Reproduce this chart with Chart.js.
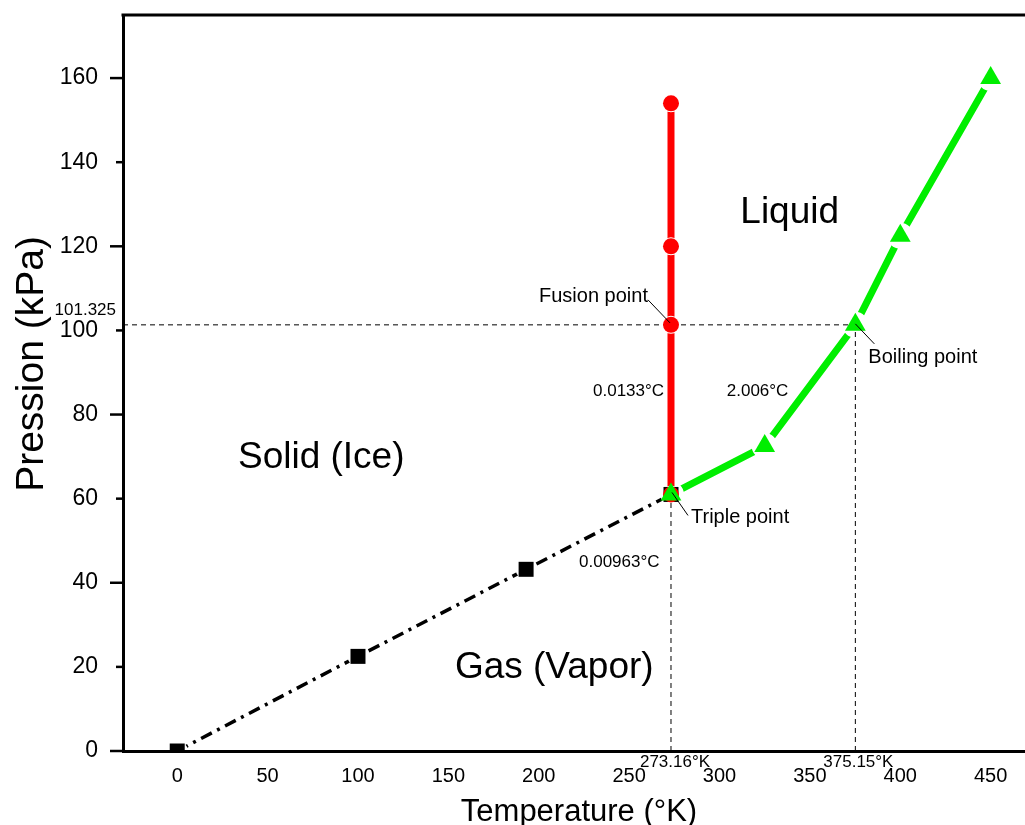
<!DOCTYPE html>
<html>
<head>
<meta charset="utf-8">
<script src="https://cdn.jsdelivr.net/npm/chart.js@4/dist/chart.umd.min.js"></script>
<style>
  html, body { margin: 0; padding: 0; background: #fff; overflow: hidden; width: 1025px; height: 825px; }
  #wrap { width: 1037px; height: 825px; position: relative; }
</style>
</head>
<body>
<div id="wrap"><canvas id="c"></canvas></div>
<script>
// ---------------- data ----------------
const sublimationT = [0, 100, 193, 273.16];
const sublimationP = [0, 22.5, 43.2, 61];
const fusionT = [273.16, 273.16, 273.16, 273.16];
const fusionP = [61, 101.325, 120, 154];
const vaporT = [273.16, 325, 375.15, 400, 450];
const vaporP = [61, 72.5, 101.325, 122.5, 160];

const tripleT = 273.16, tripleP = 61;
const boilingT = 375.15, atmP = 101.325;

const xTickValues = [0, 50, 100, 150, 200, 250, 300, 350, 400, 450];
const yTickValues = [0, 20, 40, 60, 80, 100, 120, 140, 160];
const xRange = [-30, 469];
const yRange = [0, 175];

const xTitle = 'Temperature (°K)';
const yTitle = 'Pression (kPa)';

// ---------------- helpers ----------------
const FONT = "'Liberation Sans', Arial, Helvetica, sans-serif";
const pts = (xs, ys) => xs.map((x, i) => ({ x: x, y: ys[i] }));

const GREEN = '#00ee00';
const RED = '#ff0000';

// reference (dashed) lines built from the key values
const refH = [{ x: xRange[0], y: atmP }, { x: boilingT, y: atmP }];
const refV1 = [{ x: tripleT, y: 0 }, { x: tripleT, y: tripleP }];
const refV2 = [{ x: boilingT, y: 0 }, { x: boilingT, y: atmP }];

const dashedRef = (data) => ({
  data, showLine: true, pointRadius: 0, borderColor: '#000', borderWidth: 1,
  borderDash: [5, 4], order: 10
});

// line clipping with gaps around markers (Origin style)
const gapPlugin = {
  id: 'gap',
  beforeDatasetDraw(chart, args) {
    const ds = chart.data.datasets[args.index];
    if (!ds.gapRadius) return;
    const ctx = chart.ctx;
    ctx.save();
    ctx.beginPath();
    ctx.rect(0, 0, chart.width, chart.height);
    const g = ds.gapRadius;
    args.meta.data.forEach(el => {
      ctx.moveTo(el.x + g, el.y);
      ctx.arc(el.x, el.y, g, 0, Math.PI * 2);
    });
    ctx.clip('evenodd');
  },
  afterDatasetDraw(chart, args) {
    const ds = chart.data.datasets[args.index];
    if (!ds.gapRadius) return;
    chart.ctx.restore();
  }
};

const decorPlugin = {
  id: 'decor',
  afterDraw(chart) {
    const ctx = chart.ctx;
    const a = chart.chartArea;
    const xs = chart.scales.x, ys = chart.scales.y;
    const X = v => xs.getPixelForValue(v);
    const Y = v => ys.getPixelForValue(v);
    ctx.save();
    // top frame
    ctx.strokeStyle = '#000';
    ctx.lineWidth = 3;
    ctx.beginPath();
    ctx.moveTo(a.left - 1.5, a.top);
    ctx.lineTo(chart.width, a.top);
    ctx.stroke();
    // y ticks (major every 40, minor every 20)
    ctx.lineWidth = 2.5;
    yTickValues.forEach(v => {
      const y = Y(v);
      const len = (v % 40 === 0) ? 13 : 7;
      ctx.beginPath();
      ctx.moveTo(a.left - len, y);
      ctx.lineTo(a.left, y);
      ctx.stroke();
    });
    // axis titles
    ctx.fillStyle = '#000';
    ctx.textBaseline = 'alphabetic';
    ctx.textAlign = 'center';
    ctx.font = '31px ' + FONT;
    ctx.fillText(xTitle, 579, 821);
    ctx.save();
    ctx.translate(43, 364);
    ctx.rotate(-Math.PI / 2);
    ctx.font = '39px ' + FONT;
    ctx.fillText(yTitle, 0, 0);
    ctx.restore();

    // region labels
    ctx.textAlign = 'left';
    ctx.font = '37px ' + FONT;
    ctx.fillText('Liquid', X(311.5), Y(125.5));
    ctx.fillText('Solid (Ice)', X(33.6), Y(67.3));
    ctx.fillText('Gas (Vapor)', X(153.6), Y(17.3));

    // slope labels
    ctx.font = '17px ' + FONT;
    ctx.fillText('0.0133°C', X(tripleT) - 78, Y(84.3));
    ctx.fillText('2.006°C', X(304), Y(84.3));
    ctx.fillText('0.00963°C', X(tripleT) - 92, Y(43.7));

    // key value labels
    ctx.textAlign = 'right';
    ctx.fillText(String(atmP), a.left - 7, Y(atmP) - 10);
    ctx.textAlign = 'center';
    ctx.fillText(tripleT.toFixed(2) + '°K', X(tripleT) + 4, a.bottom + 16);
    ctx.fillText(boilingT.toFixed(2) + '°K', X(boilingT) + 3, a.bottom + 16);

    // point labels with leaders
    ctx.font = '20px ' + FONT;
    ctx.textAlign = 'left';
    const fx = X(tripleT), fy = Y(atmP);
    ctx.fillText('Fusion point', fx - 132, fy - 23);
    const tx = X(tripleT), ty = Y(tripleP);
    ctx.fillText('Triple point', tx + 20, ty + 29);
    const bx = X(boilingT), by = Y(atmP);
    ctx.fillText('Boiling point', bx + 13, by + 38);
    ctx.lineWidth = 1;
    ctx.beginPath();
    ctx.moveTo(fx - 23, fy - 25); ctx.lineTo(fx - 1, fy - 2);
    ctx.moveTo(tx + 1, ty - 2); ctx.lineTo(tx + 17, ty + 21);
    ctx.moveTo(bx, by - 1); ctx.lineTo(bx + 19, by + 19);
    ctx.stroke();
    ctx.restore();
  }
};

new Chart(document.getElementById('c'), {
  type: 'scatter',
  data: {
    datasets: [
      // vapour curve (green)
      { data: pts(vaporT, vaporP), showLine: false, pointStyle: 'triangle', pointRadius: 12,
        backgroundColor: GREEN, borderColor: GREEN, borderWidth: 0, order: 0 },
      { data: pts(vaporT, vaporP), showLine: true, pointRadius: 0, borderColor: GREEN,
        borderWidth: 7, borderCapStyle: 'round', borderJoinStyle: 'round', gapRadius: 13, order: 1 },
      // fusion curve (red)
      { data: pts(fusionT, fusionP), showLine: false, pointStyle: 'circle', pointRadius: 8,
        backgroundColor: RED, borderColor: RED, borderWidth: 0, order: 2 },
      { data: pts(fusionT, fusionP), showLine: true, pointRadius: 0, borderColor: RED,
        borderWidth: 7, borderCapStyle: 'round', gapRadius: 9, order: 3 },
      // sublimation curve (black)
      { data: pts(sublimationT, sublimationP), showLine: false, pointStyle: 'rect', pointRadius: 10.6,
        backgroundColor: '#000', borderColor: '#000', borderWidth: 0, order: 4 },
      { data: pts(sublimationT, sublimationP), showLine: true, pointRadius: 0, borderColor: '#000',
        borderWidth: 3.5, borderDash: [12, 6, 3, 6], gapRadius: 10.5, order: 5 },
      // dashed reference lines
      dashedRef(refH), dashedRef(refV1), dashedRef(refV2)
    ]
  },
  options: {
    responsive: true,
    maintainAspectRatio: false,
    animation: false,
    events: [],
    layout: { padding: { top: 15, left: 0, right: 0, bottom: 0 } },
    plugins: { legend: { display: false }, tooltip: { enabled: false } },
    scales: {
      x: {
        type: 'linear', min: xRange[0], max: xRange[1],
        grid: { display: false, drawTicks: false },
        border: { display: true, color: '#000', width: 3 },
        ticks: { color: '#000', font: { family: FONT, size: 20 }, padding: 13, maxRotation: 0 },
        afterBuildTicks: s => { s.ticks = xTickValues.map(v => ({ value: v })); },
        afterFit: s => { s.height = 74; s.paddingLeft = 0; s.paddingRight = 0; s.paddingTop = 0; s.paddingBottom = 0; }
      },
      y: {
        type: 'linear', min: yRange[0], max: yRange[1],
        grid: { display: false, drawTicks: false },
        border: { display: true, color: '#000', width: 3 },
        ticks: { color: '#000', font: { family: FONT, size: 23 }, padding: 25 },
        afterBuildTicks: s => { s.ticks = yTickValues.map(v => ({ value: v })); },
        afterFit: s => { s.width = 123; s.paddingLeft = 0; s.paddingRight = 0; s.paddingTop = 0; s.paddingBottom = 0; }
      }
    }
  },
  plugins: [gapPlugin, decorPlugin]
});
</script>
</body>
</html>
